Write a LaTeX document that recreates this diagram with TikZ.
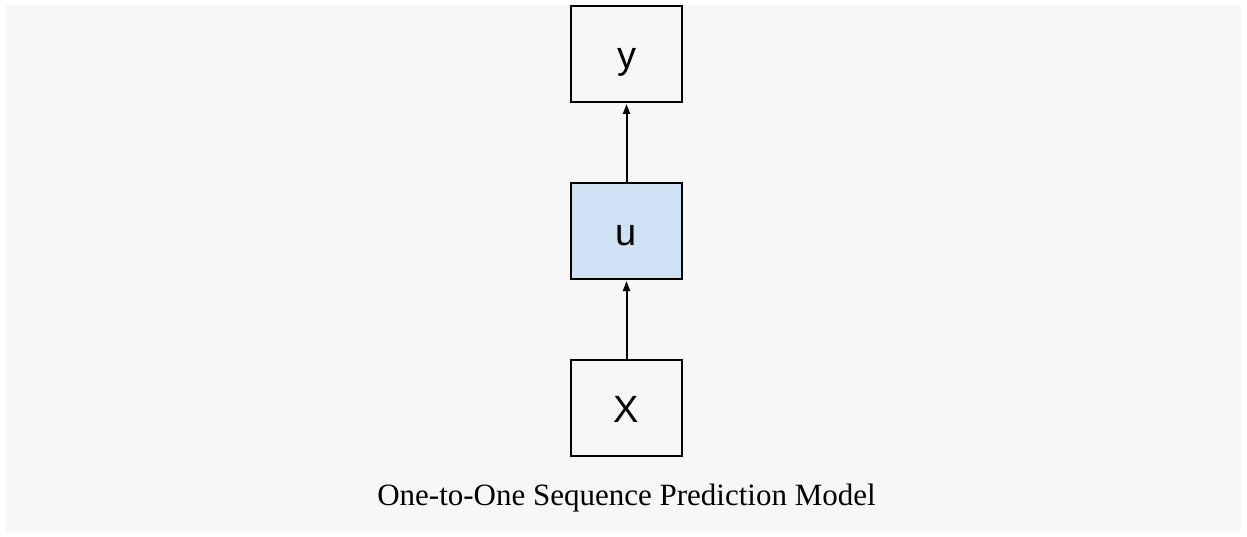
\documentclass[tikz,border=0pt]{standalone}
\usepackage{fontspec}
\setmainfont{Liberation Serif}
\newfontfamily\boxfont{Liberation Sans}
\usetikzlibrary{arrows.meta}
\definecolor{panel}{HTML}{F7F7F7}
\definecolor{ublue}{HTML}{CFE2F3}
\begin{document}
\begin{tikzpicture}[x=1pt,y=-1pt,
  box/.style={draw=black,line width=2pt,minimum width=111pt,minimum height=96pt,inner sep=0pt,text height=29pt,text depth=0pt,font=\boxfont\fontsize{38}{40}\selectfont},
  conn/.style={line width=2pt,shorten >=1pt,-{Triangle[length=10pt,width=7pt]}}]
\useasboundingbox (0,0) rectangle (1247,537);
\fill[white] (0,0) rectangle (1247,537);
\fill[panel] (6,5) rectangle (1241,532);
\node[box] (y) at (626.5,54) {y};
\node[box,fill=ublue] (u) at (626.5,231) {u};
\node[box] (x) at (626.5,407.5) {X};
\draw[conn] (x) -- (u);
\draw[conn] (u) -- (y);
\node[font=\fontsize{31}{33}\selectfont,anchor=base] (cap) at (626.5,505) {One-to-One Sequence Prediction Model};
\end{tikzpicture}
\end{document}
